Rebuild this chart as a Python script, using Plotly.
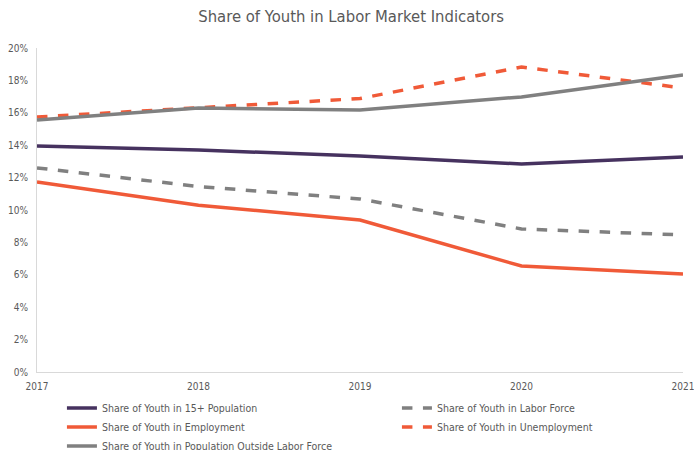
import plotly.graph_objects as go

years = [2017, 2018, 2019, 2020, 2021]
share_15plus = [13.95, 13.7, 13.33, 12.84, 13.27]
share_labor_force = [12.6, 11.45, 10.68, 8.83, 8.46]
share_employment = [11.73, 10.3, 9.38, 6.54, 6.05]
share_unemployment = [15.74, 16.3, 16.88, 18.83, 17.53]
share_outside_lf = [15.56, 16.3, 16.17, 16.98, 18.33]
y_ticks = [0, 2, 4, 6, 8, 10, 12, 14, 16, 18, 20]
y_tick_labels = [f"{v}%" for v in y_ticks]

PURPLE = "#46325f"
ORANGE = "#f05a38"
GREY = "#808080"

series = [
    ("Share of Youth in 15+ Population", share_15plus, PURPLE, "solid"),
    ("Share of Youth in Labor Force", share_labor_force, GREY, "dash"),
    ("Share of Youth in Employment", share_employment, ORANGE, "solid"),
    ("Share of Youth in Unemployment", share_unemployment, ORANGE, "dash"),
    ("Share of Youth in Population Outside Labor Force", share_outside_lf, GREY, "solid"),
]

fig = go.Figure()
for name, vals, color, dash in series:
    fig.add_trace(go.Scatter(x=years, y=vals, name=name, mode="lines",
                             line=dict(color=color, width=3.5, dash=dash)))

FONT = "DejaVu Sans Condensed, DejaVu Sans, sans-serif"
fig.update_layout(
    width=694, height=450,
    margin=dict(l=37, r=11, t=48, b=78, autoexpand=False),
    paper_bgcolor="white", plot_bgcolor="white",
    font=dict(family=FONT, color="#595959", size=10),
    title=dict(text="Share of Youth in Labor Market Indicators", x=0.506, xanchor="center",
               y=0.976, yanchor="top", font=dict(size=16.5, color="#595959", family=FONT)),
    xaxis=dict(range=[2017, 2021], tickvals=years, ticktext=[str(y) for y in years],
               showgrid=False, zeroline=False, showline=True, linecolor="#d9d9d9", linewidth=1,
               ticks="", ticklabelstandoff=5, ticklabeloverflow="allow", tickfont=dict(size=10)),
    yaxis=dict(range=[0, 20], tickvals=y_ticks, ticktext=y_tick_labels,
               showgrid=False, zeroline=False, showline=True, linecolor="#d9d9d9", linewidth=1,
               ticks="", ticklabelstandoff=6, tickfont=dict(size=10)),
    legend=dict(orientation="h", x=-0.0001, xanchor="left", y=-0.066, yanchor="top",
                entrywidth=265, entrywidthmode="pixels", itemwidth=30, indentation=25,
                font=dict(size=10.5, color="#595959", family=FONT), tracegroupgap=0,
                bgcolor="rgba(0,0,0,0)"),
    showlegend=True,
)

fig.write_html("out.html", config={"displayModeBar": False},
               post_script="document.body.style.margin='0px';")
